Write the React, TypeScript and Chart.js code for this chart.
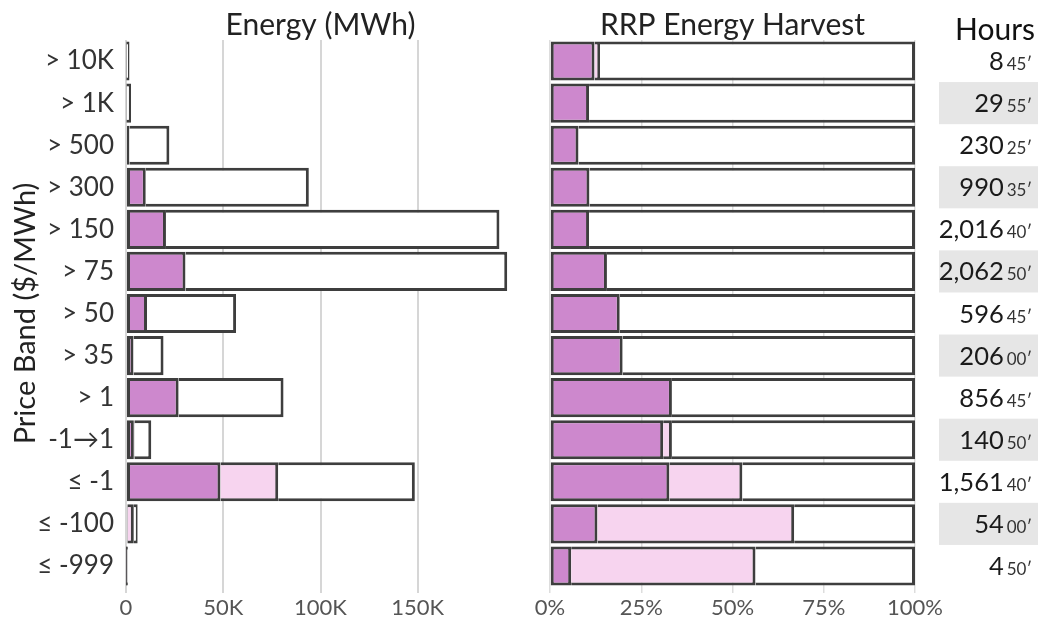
import React, { useEffect, useRef } from 'react';
import { Chart, registerables } from 'chart.js';

Chart.register(...registerables);

// ---- data ----
const categories = ['> 10K', '> 1K', '> 500', '> 300', '> 150', '> 75', '> 50', '> 35', '> 1', '-1→1', '≤ -1', '≤ -100', '≤ -999'];
// total energy per price band (MWh)
const energyTotal = [1800, 2600, 22300, 94000, 192000, 196000, 56600, 19300, 81000, 13000, 148500, 6000, 1000];
// share of energy harvested at positive RRP (%)
const harvestPct = [12.2, 10.7, 7.8, 10.8, 10.7, 15.6, 19.1, 19.9, 33.4, 31.0, 32.7, 13.0, 5.8];
// additional share (lighter segment) (%)
const extraPct = [1.5, 0, 0, 0, 0, 0, 0, 0, 0, 2.4, 20.0, 53.9, 50.5];
// hours in each band
const hoursWhole = ['8', '29', '230', '990', '2,016', '2,062', '596', '206', '856', '140', '1,561', '54', '4'];
const hoursMinutes = ['45', '55', '25', '35', '40', '50', '45', '00', '45', '50', '40', '00', '50'];
const energyTickValues = [0, 50000, 100000, 150000];
const pctTickValues = [0, 25, 50, 75, 100];

// ---- styles ----
const FONT = 'Lato, "Noto Sans", sans-serif';
const BORDER = '#3e3e3e';
const DARK = '#cd88cd';
const LIGHT = '#f7d4ef';
const REST = '#ffffff';
const BW = 3;
const firstBorder = { top: BW, bottom: BW, left: BW, right: BW };
const nextBorder = { top: BW, bottom: BW, left: 0, right: BW };

function makeDatasets(dark: number[], light: number[], rest: number[]) {
  const common = {
    borderColor: BORDER,
    borderSkipped: false as const,
    categoryPercentage: 0.93,
    barPercentage: 1,
  };
  return [
    { ...common, label: 'harvest', data: dark, backgroundColor: DARK, borderWidth: firstBorder },
    { ...common, label: 'extra', data: light, backgroundColor: LIGHT, borderWidth: nextBorder },
    { ...common, label: 'rest', data: rest, backgroundColor: REST, borderWidth: nextBorder },
  ];
}

const hoursPlugin = {
  id: 'hoursColumn',
  afterDraw(chart: any) {
    const { ctx } = chart;
    const y = chart.scales.y;
    const step = y.getPixelForValue(1) - y.getPixelForValue(0);
    const right = 502;
    ctx.save();
    categories.forEach((_, i) => {
      const cy = y.getPixelForValue(i);
      if (i % 2 === 1) {
        ctx.fillStyle = '#e6e6e6';
        ctx.fillRect(409, cy - step / 2, chart.width - 409, step);
      }
      ctx.textAlign = 'right';
      ctx.textBaseline = 'alphabetic';
      const mins = hoursMinutes[i] + '′';
      ctx.font = `17px ${FONT}`;
      ctx.fillStyle = '#333333';
      ctx.fillText(mins, right, cy + 9);
      const mw = ctx.measureText(mins).width;
      ctx.font = `25.5px ${FONT}`;
      ctx.fillStyle = '#1a1a1a';
      ctx.fillText(hoursWhole[i], right - mw - 3, cy + 9);
    });
    ctx.font = `30px ${FONT}`;
    ctx.fillStyle = '#111111';
    ctx.textAlign = 'right';
    ctx.textBaseline = 'alphabetic';
    ctx.fillText('Hours', 505, 40);
    ctx.restore();
  },
};

function baseOptions(title: string) {
  return {
    indexAxis: 'y' as const,
    responsive: false,
    animation: false as const,
    plugins: {
      legend: { display: false },
      tooltip: { enabled: false },
      title: {
        display: true,
        text: title,
        fullSize: false,
        color: '#222222',
        font: { family: FONT, size: 30, weight: 'normal' as const },
        padding: { top: 7, bottom: -3 },
      },
    },
  };
}

export default function App() {
  const leftRef = useRef<HTMLCanvasElement>(null);
  const rightRef = useRef<HTMLCanvasElement>(null);

  useEffect(() => {
    Chart.defaults.font.family = FONT;

    const eDark = energyTotal.map((t, i) => (t * harvestPct[i]) / 100);
    const eLight = energyTotal.map((t, i) => (t * extraPct[i]) / 100);
    const eRest = energyTotal.map((t, i) => t - eDark[i] - eLight[i]);

    const left = new Chart(leftRef.current!, {
      type: 'bar',
      data: { labels: categories, datasets: makeDatasets(eDark, eLight, eRest) as any },
      options: {
        ...baseOptions('Energy (MWh)'),
        layout: { padding: { left: 0, right: 15, top: 0, bottom: 0 } },
        scales: {
          x: {
            stacked: true,
            min: 0,
            max: 200000,
            afterBuildTicks: (s: any) => {
              s.ticks = energyTickValues.map((v) => ({ value: v }));
            },
            afterFit: (s: any) => {
              s.height = 33;
            },
            border: { display: false },
            grid: { color: '#d6d6d6', lineWidth: 2, drawTicks: true, tickLength: 6 },
            ticks: {
              color: '#555555',
              padding: 2,
              font: { family: FONT, size: 22 },
              callback: (v: any) => (Number(v) === 0 ? '0' : Number(v) / 1000 + 'K'),
            },
          },
          y: {
            stacked: true,
            afterFit: (s: any) => {
              s.width = 126;
            },
            border: { display: false },
            grid: { display: false, drawTicks: false },
            ticks: { color: '#333333', padding: 12, font: { family: FONT, size: 26 } },
            title: {
              display: true,
              text: 'Price Band ($/MWh)',
              color: '#222222',
              font: { family: FONT, size: 29 },
              padding: { top: 8, bottom: 0 },
            },
          },
        },
      } as any,
    });

    const pRest = harvestPct.map((d, i) => 100 - d - extraPct[i]);
    const right = new Chart(rightRef.current!, {
      type: 'bar',
      data: { labels: categories, datasets: makeDatasets(harvestPct, extraPct, pRest) as any },
      options: {
        ...baseOptions('RRP Energy Harvest'),
        layout: { padding: { left: 20, right: 123, top: 0, bottom: 0 } },
        scales: {
          x: {
            stacked: true,
            min: 0,
            max: 100,
            afterBuildTicks: (s: any) => {
              s.ticks = pctTickValues.map((v) => ({ value: v }));
            },
            afterFit: (s: any) => {
              s.height = 33;
            },
            border: { display: false },
            grid: { color: '#dddddd', lineWidth: 1.5, drawTicks: true, tickLength: 6 },
            ticks: {
              color: '#555555',
              padding: 2,
              font: { family: FONT, size: 22 },
              callback: (v: any) => v + '%',
            },
          },
          y: { stacked: true, display: false },
        },
      } as any,
      plugins: [hoursPlugin],
    });

    return () => {
      left.destroy();
      right.destroy();
    };
  }, []);

  return (
    <div style={{ position: 'absolute', left: 0, top: 0, width: 1038, height: 620, background: '#ffffff' }}>
      <canvas ref={leftRef} width={530} height={620} style={{ position: 'absolute', left: 0, top: 0 }} />
      <canvas ref={rightRef} width={508} height={620} style={{ position: 'absolute', left: 530, top: 0 }} />
    </div>
  );
}
